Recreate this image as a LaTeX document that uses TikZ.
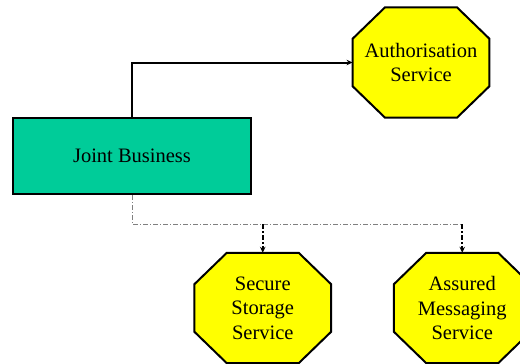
\documentclass[tikz,border=0pt]{standalone}
\usepackage{fontspec}
\setmainfont{Liberation Serif}
\usetikzlibrary{arrows.meta,calc,backgrounds}

\definecolor{svcyellow}{HTML}{FFFF00}
\definecolor{bizteal}{HTML}{00CC99}

\tikzset{
  lbl/.style={font=\fontsize{20.5}{24.5}\selectfont, align=center, inner sep=0pt},
  bizbox/.style={lbl, draw=black, line width=2pt, fill=bizteal,
    minimum width=238pt, minimum height=76pt},
  svcbox/.style={lbl, minimum width=136.5pt, minimum height=110pt},
  octline/.style={draw=black, line width=2pt, fill=svcyellow, line join=miter},
  solidlink/.style={draw=black, line width=2pt, -{Stealth[length=6pt,width=5.5pt]}},
  buslink/.style={draw=black!50, line width=0.8pt,
    dash pattern=on 5pt off 2pt on 1pt off 2pt},
  droplink/.style={draw=black, line width=2pt,
    dash pattern=on 5pt off 2pt on 2pt off 2pt,
    -{Stealth[length=6pt,width=5.5pt]}}
}

% octagon drawn round a service node, on the background layer
\newcommand\svcoctagon[1]{%
  \begin{scope}[on background layer]
    \path[octline]
      ($(#1.north west)+(32.5,0)$) -- ($(#1.north east)+(-32.5,0)$) --
      ($(#1.north east)+(0,31.5)$) -- ($(#1.south east)+(0,-31.5)$) --
      ($(#1.south east)+(-32.5,0)$) -- ($(#1.south west)+(32.5,0)$) --
      ($(#1.south west)+(0,-31.5)$) -- ($(#1.north west)+(0,31.5)$) -- cycle;
  \end{scope}}

\begin{document}
\begin{tikzpicture}[x=1pt, y=-1pt]
  \useasboundingbox (0,0) rectangle (520,364);
  \clip (0,0) rectangle (520,364);

  \node[svcbox] (auth) at (421,62.5) {Authorisation\\Service};
  \svcoctagon{auth}

  \node[bizbox] (jb) at (132,156) {Joint Business};

  \node[svcbox] (secure) at (262.75,308) {Secure\\Storage\\Service};
  \svcoctagon{secure}

  \node[svcbox] (assured) at (462.25,308) {Assured\\Messaging\\Service};
  \svcoctagon{assured}

  \coordinate (busR) at (462.25,224);

  \draw[solidlink] (jb.north) |- (auth.west);

  \draw[buslink] (jb.south) |- (busR);
  \draw[droplink] (secure.north |- busR) -- (secure.north);
  \draw[droplink] (busR) -- (assured.north);
\end{tikzpicture}
\end{document}
